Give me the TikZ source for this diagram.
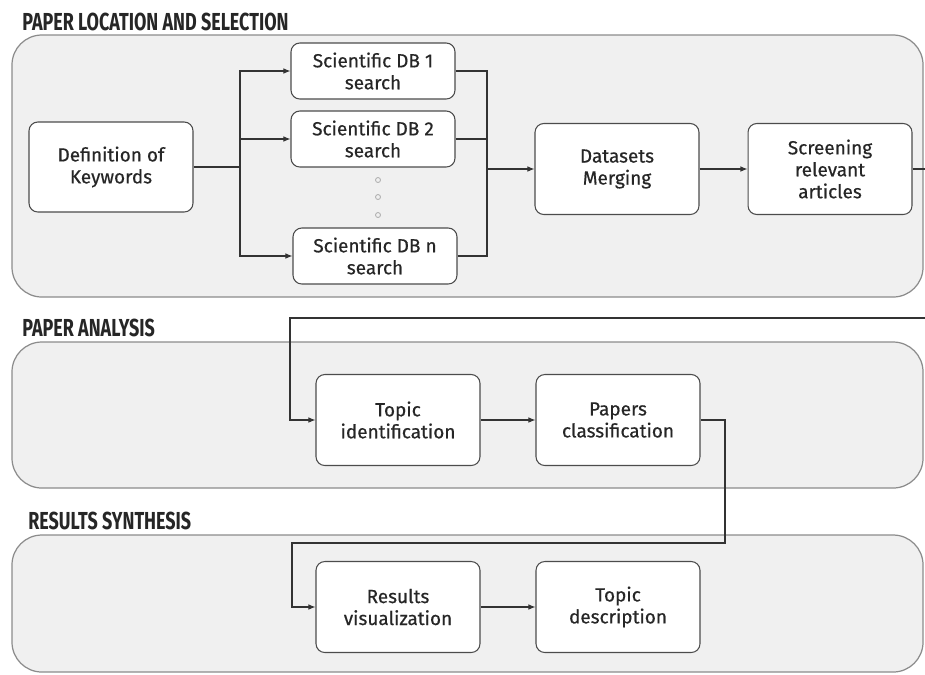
\documentclass[tikz,border=0pt]{standalone}
\usepackage{fontspec}
\setmainfont{Fira Sans}[UprightFeatures={FakeBold=0.5}]
\newfontfamily\titlefont[FakeStretch=0.73]{Fira Sans}
\usetikzlibrary{arrows.meta, positioning}

\tikzset{
	panel/.style={draw=black!45, fill=gray!12, rounded corners=17pt, line width=0.7pt},
	paneltitle/.style={anchor=west, inner sep=0pt, text=black!85, font=\titlefont\bfseries\fontsize{14}{16}\selectfont},
	stepbox/.style={draw=black!70, fill=white, rounded corners=5pt, line width=0.6pt, align=center,
		minimum width=3.28cm, minimum height=1.82cm, text=black!85, font=\fontsize{10.8}{12.5}\selectfont},
	dbbox/.style={stepbox, minimum height=1.12cm},
	link/.style={-{Latex[length=4pt,width=3.2pt]}, line width=0.6pt, black!80},
	line/.style={line width=0.6pt, black!80}
}

\begin{document}
\begin{tikzpicture}[x=0.02cm, y=-0.02cm]
		\useasboundingbox[fill=white] (0,0) rectangle (925,674);
		
		% Panels
		\draw[panel] (12,35) rectangle (923,297);
		\draw[panel] (12,342) rectangle (923,488);
		\draw[panel] (12,535) rectangle (923,672);
		\node[paneltitle] (t1) at (22,22) {PAPER LOCATION AND SELECTION};
		\node[paneltitle] (t2) at (22,328) {PAPER ANALYSIS};
		\node[paneltitle] (t3) at (28,521) {RESULTS SYNTHESIS};
		
		% Paper location and selection
		\node[stepbox, minimum height=1.8cm] (keywords) at (111,167) {Definition of\\Keywords};
		\node[dbbox] (db1) at (373,71) {Scientific DB 1\\search};
		\node[dbbox] (db2) at (373,139) {Scientific DB 2\\search};
		\node[dbbox] (dbn) at (375,256) {Scientific DB n\\search};
		\foreach \y in {180,197,215}
			\draw[black!30, line width=0.5pt] (378,\y) circle (2.5);
		\node[stepbox] (merging) at (617,169) {Datasets\\Merging};
		\node[stepbox] (screening) at (830,169) {Screening\\relevant\\articles};
		
		\coordinate (split) at (240,167);
		\coordinate (join) at (487,169);
		\draw[line] (keywords.east) -- (split);
		\draw[link] (split) |- (db1.west);
		\draw[link] (split) |- (db2.west);
		\draw[link] (split) |- (dbn.west);
		\draw[line] (db1.east) -| (join);
		\draw[line] (db2.east) -| (join);
		\draw[line] (dbn.east) -| (join);
		\draw[link] (join) -- (merging.west);
		\draw[link] (merging) -- (screening);
		
		% Paper analysis
		\node[stepbox] (topic) at (398,420) {Topic\\identification};
		\node[stepbox] (classif) at (618,420) {Papers\\classification};
		\coordinate (turn1) at (940,318);
		\coordinate (turn2) at (290,318);
		\draw[link] (screening.east) -| (turn1) -- (turn2) |- (topic.west);
		\draw[link] (topic) -- (classif);
		
		% Results synthesis
		\node[stepbox] (resvis) at (398,607) {Results\\visualization};
		\node[stepbox] (topicdesc) at (618,607) {Topic\\description};
		\coordinate (turn3) at (725,543);
		\coordinate (turn4) at (292,543);
		\draw[link] (classif.east) -| (turn3) -- (turn4) |- (resvis.west);
		\draw[link] (resvis) -- (topicdesc);
\end{tikzpicture}
\end{document}
